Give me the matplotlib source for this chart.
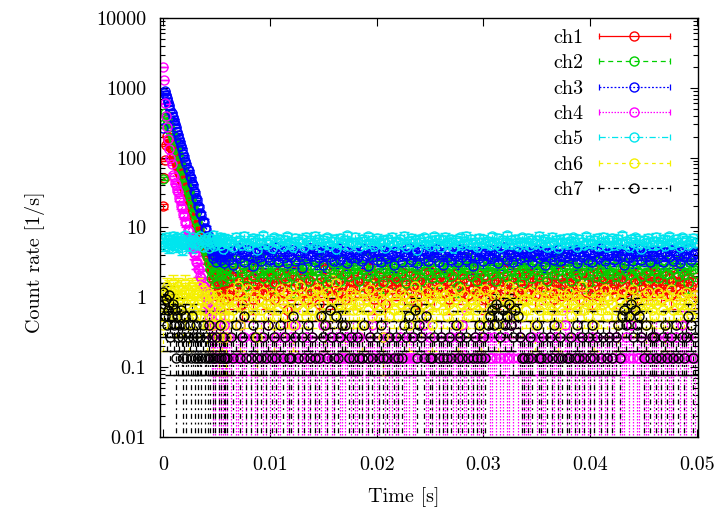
import numpy as np
import matplotlib
matplotlib.use("Agg")
import matplotlib.pyplot as plt
from matplotlib.lines import Line2D
from matplotlib.legend_handler import HandlerBase

plt.rcParams["font.family"] = ["cmr10", "DejaVu Serif"]
plt.rcParams["axes.formatter.use_mathtext"] = True

# Sample times [s]: 0.1 ms bins over the pulse, 0.2 ms bins afterwards
t_pulse = np.arange(60) * 1e-4
t_tail = 0.006 + np.arange(220) * 2e-4
rate_per_count = 2.0 / 15.0  # [1/s] per recorded count

channels = ["ch1", "ch2", "ch3", "ch4", "ch5", "ch6", "ch7"]

# Recorded counts per bin (first 60 entries: pulse bins, then tail bins)
ch1_counts = [
    150, 380, 690, 1130, 1510, 1340, 1230, 1080, 990, 870, 810, 705, 660, 565, 538, 460, 432, 372, 356, 298,
    285, 240, 232, 196, 187, 158, 152, 126, 124, 101, 100, 82, 81, 66, 67, 53, 54, 43, 44, 35,
    36, 28, 29, 23, 24, 18, 19, 14, 11, 15, 8, 13, 10, 17, 9, 12, 14, 7, 11, 16,
    12, 8, 15, 10, 18, 9, 13, 6, 11, 16, 10, 14, 7, 12, 19, 9, 11, 15, 8, 13,
    10, 14, 7, 12, 17, 11, 9, 15, 5, 13, 10, 18, 8, 12, 14, 9, 16, 11, 7, 13,
    15, 9, 12, 6, 14, 11, 19, 10, 13, 8, 16, 12, 9, 14, 11, 7, 17, 10, 13, 12,
    8, 13, 11, 16, 9, 14, 10, 20, 12, 7, 11, 15, 9, 13, 6, 12, 17, 10, 14, 11,
    13, 10, 17, 8, 12, 15, 9, 11, 14, 6, 13, 10, 16, 12, 9, 18, 11, 8, 13, 15,
    11, 16, 9, 13, 7, 12, 15, 10, 18, 11, 9, 14, 12, 8, 15, 10, 13, 17, 9, 12,
    14, 7, 12, 10, 16, 13, 8, 15, 11, 19, 10, 12, 6, 14, 11, 16, 9, 13, 10, 15,
    9, 13, 16, 11, 8, 14, 12, 10, 17, 9, 13, 11, 15, 7, 12, 14, 10, 18, 11, 8,
    12, 15, 10, 14, 11, 7, 16, 13, 9, 12, 15, 8, 11, 17, 10, 13, 9, 14, 12, 16,
    10, 12, 8, 15, 13, 11, 18, 9, 14, 10, 12, 16, 7, 13, 11, 15, 9, 12, 17, 10,
    16, 11, 13, 9, 12, 15, 10, 14, 8, 13, 11, 17, 10, 12, 15, 9, 14, 11, 13, 8,
]
ch2_counts = [
    375, 2240, 3250, 2980, 2690, 2340, 2110, 1830, 1660, 1430, 1310, 1120, 1030, 880, 810, 690, 636, 540, 498, 424,
    392, 328, 308, 258, 243, 204, 190, 158, 150, 124, 118, 97, 93, 76, 73, 59, 57, 47, 45, 36,
    36, 29, 28, 23, 19, 14, 22, 17, 25, 15, 18, 12, 21, 23, 16, 20, 13, 24, 18, 15,
    19, 14, 23, 16, 26, 13, 20, 17, 22, 11, 18, 24, 15, 21, 17, 19, 27, 14, 20, 16,
    17, 22, 12, 19, 25, 16, 21, 14, 18, 23, 15, 20, 11, 24, 18, 16, 22, 19, 13, 21,
    15, 20, 18, 26, 14, 22, 17, 12, 19, 24, 16, 21, 18, 13, 25, 17, 20, 15, 23, 19,
    22, 16, 13, 21, 19, 27, 15, 18, 23, 14, 20, 17, 25, 12, 19, 22, 16, 21, 18, 14,
    18, 24, 16, 20, 12, 22, 17, 26, 15, 19, 21, 13, 23, 18, 16, 24, 14, 20, 17, 22,
    14, 19, 25, 17, 21, 15, 23, 18, 11, 20, 16, 22, 19, 27, 15, 18, 21, 13, 24, 17,
    21, 15, 18, 23, 16, 20, 13, 24, 19, 17, 22, 15, 26, 18, 14, 21, 17, 23, 12, 19,
    16, 23, 20, 14, 25, 18, 15, 22, 17, 21, 13, 19, 24, 16, 20, 18, 27, 14, 21, 17,
    20, 13, 22, 18, 15, 24, 19, 16, 21, 12, 23, 17, 20, 15, 25, 18, 14, 22, 19, 16,
    17, 21, 15, 26, 19, 14, 22, 18, 23, 16, 20, 13, 18, 24, 15, 21, 17, 25, 14, 20,
    23, 18, 14, 20, 17, 25, 16, 21, 13, 19, 22, 15, 24, 18, 16, 20, 12, 23, 19, 17,
]
ch3_counts = [
    2025, 6310, 6750, 5960, 5350, 4680, 4190, 3660, 3300, 2870, 2590, 2250, 2040, 1760, 1600, 1380, 1260, 1090, 990, 845,
    778, 662, 612, 520, 482, 410, 380, 322, 300, 252, 236, 198, 186, 152, 146, 120, 114, 94, 90, 73,
    71, 57, 55, 44, 45, 36, 31, 27, 35, 29, 24, 30, 34, 28, 26, 33, 29, 23, 31, 28,
    31, 26, 35, 22, 29, 38, 27, 33, 24, 30, 36, 28, 21, 32, 27, 34, 25, 30, 37, 28,
    26, 33, 29, 39, 24, 31, 27, 35, 23, 30, 28, 36, 25, 32, 29, 20, 34, 27, 31, 38,
    29, 24, 36, 27, 32, 22, 30, 35, 28, 33, 25, 31, 38, 26, 29, 34, 23, 30, 27, 35,
    33, 27, 30, 25, 37, 29, 21, 32, 28, 35, 26, 31, 24, 36, 29, 27, 33, 30, 22, 34,
    28, 35, 24, 31, 29, 38, 26, 30, 33, 23, 29, 36, 27, 32, 25, 30, 34, 28, 37, 24,
    30, 22, 33, 28, 35, 26, 31, 29, 24, 37, 28, 32, 26, 34, 30, 21, 29, 35, 27, 31,
    25, 32, 29, 36, 27, 30, 34, 23, 31, 28, 39, 26, 30, 33, 24, 29, 35, 27, 32, 28,
    34, 28, 31, 24, 30, 36, 27, 33, 29, 22, 32, 28, 35, 26, 31, 37, 25, 30, 28, 33,
    27, 31, 36, 29, 23, 33, 28, 30, 35, 26, 32, 24, 29, 34, 27, 38, 30, 25, 31, 29,
    32, 26, 29, 34, 28, 31, 22, 36, 27, 30, 25, 33, 29, 37, 26, 31, 28, 35, 24, 30,
    29, 35, 27, 31, 24, 33, 30, 28, 36, 25, 32, 29, 23, 34, 28, 31, 37, 26, 30, 33,
]
ch4_counts = [
    15000, 9750, 4520, 2980, 2050, 1370, 990, 740, 610, 425, 390, 330, 308, 255, 240, 196, 186, 152, 143, 118,
    110, 90, 86, 70, 67, 53, 52, 41, 40, 32, 31, 24, 24, 19, 19, 15, 14, 11, 11, 8,
    9, 6, 7, 4, 5, 3, 2, 1, 3, 1, 0, 2, 1, 4, 1, 2, 1, 3, 1, 2,
    1, 2, 1, 0, 1, 1, 3, 1, 2, 1, 0, 1, 2, 1, 1, 0, 2, 1, 1, 3,
    1, 0, 1, 2, 1, 1, 2, 0, 1, 1, 2, 1, 3, 1, 0, 1, 1, 2, 1, 1,
    2, 1, 1, 0, 1, 3, 1, 1, 2, 1, 1, 0, 2, 1, 1, 1, 2, 0, 1, 2,
    1, 1, 2, 1, 0, 1, 1, 2, 3, 1, 1, 1, 0, 2, 1, 2, 1, 1, 0, 1,
    1, 2, 0, 1, 1, 1, 2, 1, 1, 0, 0, 2, 3, 1, 1, 2, 1, 0, 1, 1,
    2, 1, 1, 1, 0, 2, 1, 1, 2, 1, 3, 1, 1, 0, 1, 1, 2, 1, 1, 2,
    1, 0, 2, 1, 1, 2, 1, 0, 1, 1, 2, 1, 1, 3, 1, 0, 1, 2, 1, 1,
    1, 1, 1, 2, 0, 1, 2, 1, 1, 1, 0, 2, 1, 1, 2, 1, 1, 0, 3, 1,
    2, 1, 0, 1, 1, 2, 1, 1, 0, 1, 1, 2, 1, 2, 1, 1, 0, 1, 1, 2,
    1, 1, 2, 0, 1, 1, 1, 2, 1, 3, 1, 0, 1, 1, 2, 1, 1, 1, 0, 2,
    1, 2, 1, 1, 0, 1, 2, 1, 1, 1, 2, 0, 1, 3, 1, 1, 2, 1, 0, 1,
]
ch5_counts = [
    47, 52, 41, 55, 45, 49, 38, 51, 44, 57, 46, 42, 50, 54, 40, 48, 53, 45, 36, 50,
    44, 58, 47, 41, 52, 46, 49, 39, 55, 43, 50, 47, 53, 42, 45, 56, 48, 40, 51, 46,
    49, 43, 54, 38, 47, 52, 45, 59, 41, 48, 44, 51, 46, 55, 42, 50, 37, 53, 47, 45,
    52, 44, 48, 39, 55, 46, 50, 42, 57, 45, 41, 49, 53, 47, 36, 51, 44, 58, 46, 43,
    50, 38, 54, 47, 45, 52, 41, 49, 56, 44, 47, 40, 53, 48, 45, 51, 39, 55, 46, 50,
    43, 57, 47, 52, 40, 49, 45, 54, 42, 48, 51, 37, 46, 53, 44, 50, 58, 41, 47, 45,
    55, 46, 39, 51, 48, 43, 56, 45, 50, 41, 53, 47, 44, 49, 38, 52, 46, 55, 42, 48,
    46, 51, 44, 57, 40, 48, 53, 45, 49, 36, 51, 47, 54, 43, 48, 41, 50, 56, 45, 52,
    40, 49, 55, 44, 47, 52, 38, 50, 46, 54, 42, 48, 57, 45, 51, 43, 47, 39, 53, 46,
    51, 45, 48, 42, 56, 47, 44, 53, 39, 49, 46, 58, 43, 50, 45, 52, 41, 47, 54, 44,
    47, 53, 41, 50, 45, 49, 57, 43, 48, 52, 40, 46, 55, 44, 49, 38, 51, 47, 45, 53,
    44, 48, 54, 46, 39, 51, 47, 42, 56, 45, 50, 43, 49, 53, 41, 47, 55, 46, 40, 50,
    53, 42, 47, 51, 45, 58, 44, 48, 40, 52, 46, 54, 43, 49, 37, 50, 45, 53, 47, 42,
    48, 55, 43, 46, 52, 41, 49, 56, 45, 44, 51, 47, 39, 54, 46, 50, 42, 48, 53, 45,
]
ch6_counts = [
    3, 6, 9, 8, 11, 7, 10, 5, 9, 12, 6, 10, 4, 8, 11, 7, 5, 10, 8, 4,
    9, 12, 6, 10, 3, 9, 7, 11, 5, 8, 10, 4, 9, 6, 11, 4, 7, 10, 5, 8,
    7, 3, 9, 6, 8, 4, 8, 3, 7, 5, 4, 8, 2, 6, 5, 3, 7, 4, 6, 2,
    7, 4, 9, 5, 6, 11, 3, 8, 5, 7, 10, 4, 6, 8, 2, 7, 5, 9, 6, 4,
    6, 8, 3, 7, 5, 10, 6, 4, 9, 5, 7, 3, 8, 6, 11, 5, 7, 4, 6, 9,
    5, 7, 10, 4, 8, 6, 3, 9, 5, 7, 4, 12, 6, 5, 8, 3, 7, 6, 9, 5,
    8, 5, 6, 3, 9, 7, 5, 10, 4, 6, 8, 5, 7, 2, 9, 6, 4, 8, 5, 7,
    4, 9, 6, 8, 5, 3, 7, 6, 11, 5, 8, 4, 6, 9, 5, 7, 3, 8, 6, 10,
    7, 5, 8, 4, 6, 9, 5, 7, 3, 10, 6, 8, 5, 4, 7, 6, 9, 5, 8, 3,
    6, 10, 4, 7, 5, 8, 6, 3, 9, 5, 7, 6, 11, 4, 8, 5, 6, 9, 4, 7,
    5, 7, 9, 6, 3, 8, 5, 10, 6, 7, 4, 8, 5, 9, 6, 3, 7, 5, 8, 6,
    9, 4, 6, 8, 5, 7, 11, 5, 6, 4, 9, 6, 3, 7, 8, 5, 6, 10, 4, 7,
    6, 8, 5, 3, 7, 9, 4, 6, 8, 5, 10, 4, 7, 6, 5, 8, 3, 9, 6, 5,
    4, 6, 9, 7, 5, 3, 8, 6, 10, 5, 7, 4, 6, 8, 5, 9, 6, 4, 7, 8,
]
ch7_counts = [
    9, 6, 4, 7, 3, 5, 8, 2, 4, 6, 3, 5, 1, 4, 2, 3, 0, 5, 2, 1,
    3, 4, 1, 2, 0, 3, 1, 4, 2, 0, 1, 3, 2, 1, 0, 2, 1, 3, 0, 1,
    2, 0, 1, 3, 1, 0, 2, 1, 0, 1, 2, 0, 1, 3, 1, 0, 2, 1, 1, 0,
    1, 0, 2, 1, 3, 0, 1, 2, 4, 1, 0, 1, 3, 2, 1, 0, 1, 2, 1, 3,
    0, 1, 2, 1, 0, 3, 1, 2, 0, 1, 1, 4, 2, 1, 0, 2, 1, 0, 3, 1,
    2, 1, 0, 1, 4, 2, 3, 1, 5, 2, 1, 4, 1, 2, 3, 3, 0, 1, 2, 1,
    0, 2, 1, 1, 3, 0, 1, 2, 1, 0, 2, 1, 3, 1, 0, 1, 2, 0, 1, 2,
    1, 0, 1, 3, 2, 4, 0, 2, 5, 1, 3, 2, 1, 4, 0, 1, 1, 2, 0, 1,
    2, 1, 0, 1, 2, 1, 0, 3, 1, 2, 1, 0, 2, 1, 0, 1, 2, 1, 3, 1,
    2, 1, 3, 4, 5, 3, 6, 4, 2, 5, 3, 4, 6, 3, 2, 5, 4, 2, 1, 1,
    0, 1, 2, 1, 0, 3, 1, 1, 2, 0, 1, 2, 1, 3, 0, 1, 2, 1, 0, 1,
    1, 2, 0, 1, 3, 1, 2, 1, 0, 2, 1, 3, 1, 2, 0, 1, 2, 0, 1, 2,
    1, 0, 2, 3, 1, 4, 5, 3, 4, 6, 2, 5, 3, 4, 2, 1, 3, 0, 1, 2,
    2, 1, 0, 1, 2, 3, 1, 0, 2, 1, 3, 1, 0, 2, 1, 2, 4, 3, 1, 2,
]

all_counts = [ch1_counts, ch2_counts, ch3_counts, ch4_counts,
              ch5_counts, ch6_counts, ch7_counts]

# gnuplot-like colours and dash patterns
colors = ["#ff0000", "#00d000", "#0000ff", "#ff00ff", "#00e5ee", "#f5f000", "#000000"]
dashes = ["-", (0, (4, 3)), (0, (1.5, 1.5)), (0, (1.2, 1.2)),
          (0, (5, 2, 1, 2)), (0, (3, 3)), (0, (4, 3, 1.5, 3))]

fig = plt.figure(figsize=(7.23, 5.18), dpi=100)
ax = fig.add_axes([160 / 723, 81 / 518, 538 / 723, 419 / 518])

t = np.concatenate([t_pulse, t_tail])

for counts, col, ls in zip(all_counts, colors, dashes):
    n = np.asarray(counts, dtype=float)
    assert n.size == t.size
    keep = n > 0
    rate = n[keep] * rate_per_count
    err = np.sqrt(n[keep]) * rate_per_count
    low = rate - np.maximum(rate - err, 1e-5)
    eb = ax.errorbar(t[keep], rate, yerr=[low, err], fmt="o", color=col,
                     mfc="none", mec=col, ms=6.5, mew=1.0, ecolor=col,
                     elinewidth=0.9, capsize=3.5, capthick=0.9)
    for bl in eb[2]:
        bl.set_linestyle(ls)

ax.set_yscale("log")
ax.set_xlim(-0.00028, 0.0501)
ax.set_ylim(0.01, 10000)

xt = [0, 0.01, 0.02, 0.03, 0.04, 0.05]
xt_labels = ["0", "0.01", "0.02", "0.03", "0.04", "0.05"]
yt = [0.01, 0.1, 1, 10, 100, 1000, 10000]
yt_labels = ["0.01", "0.1", "1", "10", "100", "1000", "10000"]
ax.set_xticks(xt)
ax.set_xticklabels(xt_labels)
ax.set_yticks(yt)
ax.set_yticklabels(yt_labels)
ax.yaxis.set_minor_locator(matplotlib.ticker.LogLocator(base=10, subs=np.arange(2, 10)))
ax.yaxis.set_minor_formatter(matplotlib.ticker.NullFormatter())
ax.tick_params(which="both", direction="in", top=True, right=True, labelsize=14.5)
ax.tick_params(axis="x", which="major", length=6, width=0.8, pad=14)
ax.tick_params(axis="y", which="major", length=6, width=0.8, pad=10)
ax.tick_params(which="minor", length=3.5, width=0.8)
for s in ax.spines.values():
    s.set_linewidth(1.0)

ax.set_xlabel("Time [s]", fontsize=14.5)
ax.xaxis.set_label_coords((404 - 160) / 538, -(487 - 437) / 419)
ax.set_ylabel("Count rate [1/s]", fontsize=14.5)
ax.yaxis.set_label_coords((45 - 160) / 538, 1 - (262 - 18) / 419)


class Key:
    def __init__(self, color, dash):
        self.color = color
        self.dash = dash


class KeySample(HandlerBase):
    def create_artists(self, legend, orig_handle, xdescent, ydescent,
                       width, height, fontsize, trans):
        y = height / 2 - ydescent
        x0, x1 = -xdescent, width - xdescent
        c = orig_handle.color
        line = Line2D([x0, x1], [y, y], color=c, linestyle=orig_handle.dash, lw=0.9)
        caps = Line2D([x0, x1], [y, y], color=c, linestyle="none", marker="|",
                      markersize=5, mew=0.9)
        dot = Line2D([(x0 + x1) / 2], [y], linestyle="none", marker="o",
                     mfc="none", mec=c, ms=6.5, mew=1.0)
        for a in (line, caps, dot):
            a.set_transform(trans)
        return [line, caps, dot]


keys = [Key(c, d) for c, d in zip(colors, dashes)]
ax.legend(keys, channels, handler_map={Key: KeySample()}, loc="upper right",
          bbox_to_anchor=(670 / 723, 1 - 29 / 518), bbox_transform=fig.transFigure,
          frameon=False, markerfirst=False, fontsize=14.5, handlelength=3.55,
          handletextpad=0.75, labelspacing=0.36, borderpad=0, borderaxespad=0)

fig.savefig("out.png", dpi=100)
